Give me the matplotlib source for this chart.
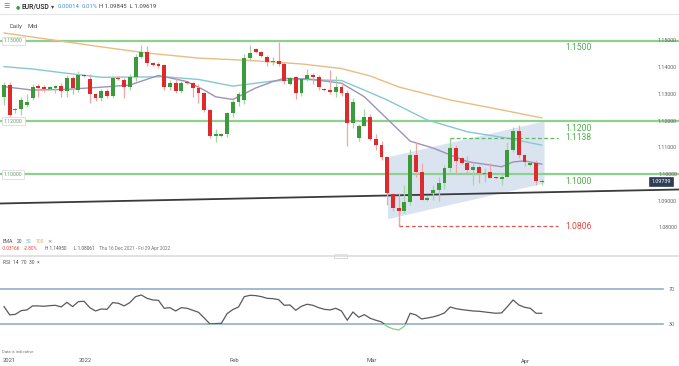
import matplotlib
matplotlib.use("Agg")
import matplotlib.pyplot as plt
import matplotlib.transforms as mtransforms
from matplotlib.patches import FancyBboxPatch
import numpy as np

plt.rcParams['font.family'] = ['Roboto', 'DejaVu Sans']

# ---------------- data (daily candles incl. Sunday sessions, 16 Dec 2021 - 5 Apr 2022) ----------------
opens = [1.1290, 1.1335, 1.1240, 1.1244, 1.1262, 1.1288, 1.1330, 1.1327, 1.1322, 1.1325,
         1.1331, 1.1313, 1.1360, 1.1318, 1.1374, 1.1356, 1.1301, 1.1285, 1.1313, 1.1294,
         1.1363, 1.1354, 1.1329, 1.1366, 1.1441, 1.1458, 1.1418, 1.1413, 1.1410, 1.1329,
         1.1344, 1.1313, 1.1345, 1.1342, 1.1325, 1.1304, 1.1242, 1.1145, 1.1146, 1.1150,
         1.1229, 1.1273, 1.1278, 1.1437, 1.1469, 1.1458, 1.1441, 1.1420, 1.1426, 1.1414,
         1.1340, 1.1365, 1.1306, 1.1358, 1.1373, 1.1366, 1.1320, 1.1316, 1.1310, 1.1329,
         1.1306, 1.1192, 1.1136, 1.1182, 1.1214, 1.1132, 1.1112, 1.1064, 1.0926, 1.0873,
         1.0865, 1.0897, 1.1073, 1.1010, 1.0905, 1.0932, 1.0942, 1.0967, 1.1023, 1.1100,
         1.1061, 1.1042, 1.1017, 1.1029, 1.1001, 1.1008, 1.0990, 1.0983, 1.0992, 1.1092,
         1.1163, 1.1073, 1.1036, 1.1042, 1.0972]
highs = [1.1345, 1.1348, 1.1248, 1.1292, 1.1300, 1.1340, 1.1338, 1.1336, 1.1330, 1.1336,
         1.1342, 1.1372, 1.1368, 1.1387, 1.1378, 1.1376, 1.1307, 1.1320, 1.1322, 1.1370,
         1.1368, 1.1360, 1.1375, 1.1450, 1.1485, 1.1482, 1.1420, 1.1420, 1.1414, 1.1354,
         1.1366, 1.1350, 1.1348, 1.1348, 1.1338, 1.1310, 1.1245, 1.1169, 1.1155, 1.1235,
         1.1280, 1.1308, 1.1450, 1.1485, 1.1472, 1.1462, 1.1448, 1.1440, 1.1495, 1.1420,
         1.1366, 1.1370, 1.1362, 1.1395, 1.1380, 1.1372, 1.1324, 1.1391, 1.1369, 1.1345,
         1.1315, 1.1285, 1.1190, 1.1245, 1.1225, 1.1150, 1.1125, 1.1070, 1.0930, 1.0930,
         1.0961, 1.1095, 1.1120, 1.1042, 1.0918, 1.0961, 1.0992, 1.1035, 1.1138, 1.1112,
         1.1066, 1.1070, 1.1045, 1.1036, 1.1025, 1.1042, 1.0992, 1.1000, 1.1123, 1.1179,
         1.1185, 1.1077, 1.1050, 1.1054, 1.09845]
lows = [1.1262, 1.1220, 1.1232, 1.1222, 1.1254, 1.1280, 1.1292, 1.1310, 1.1318, 1.1306,
        1.1292, 1.1292, 1.1300, 1.1310, 1.1365, 1.1267, 1.1275, 1.1276, 1.1285, 1.1285,
        1.1355, 1.1285, 1.1315, 1.1350, 1.1435, 1.1405, 1.1408, 1.1398, 1.1316, 1.1316,
        1.1304, 1.1305, 1.1338, 1.1291, 1.1267, 1.1235, 1.1138, 1.1123, 1.1140, 1.1140,
        1.1215, 1.1255, 1.1265, 1.1425, 1.1455, 1.1440, 1.1405, 1.1410, 1.1405, 1.1340,
        1.1336, 1.1282, 1.1295, 1.1350, 1.1340, 1.1318, 1.1312, 1.1300, 1.1291, 1.1295,
        1.1107, 1.1175, 1.1125, 1.1180, 1.1130, 1.1092, 1.1054, 1.0886, 1.0865, 1.0806,
        1.0855, 1.0885, 1.0990, 1.0903, 1.0900, 1.0905, 1.0900, 1.0945, 1.1010, 1.1004,
        1.1040, 1.1000, 1.0961, 1.0967, 1.0973, 1.0985, 1.0983, 1.0961, 1.0990, 1.1085,
        1.1060, 1.1030, 1.1030, 1.0961, 1.09619]
closes = [1.1335, 1.1222, 1.1244, 1.1279, 1.1273, 1.1328, 1.1325, 1.1322, 1.1326, 1.1331,
          1.1313, 1.1363, 1.1323, 1.1373, 1.1369, 1.1301, 1.1285, 1.1313, 1.1294, 1.1362,
          1.1357, 1.1329, 1.1366, 1.1441, 1.1458, 1.1416, 1.1410, 1.1407, 1.1329, 1.1344,
          1.1313, 1.1344, 1.1341, 1.1325, 1.1304, 1.1242, 1.1144, 1.1150, 1.1152, 1.1229,
          1.1273, 1.1300, 1.1437, 1.1454, 1.1458, 1.1445, 1.1422, 1.1426, 1.1414, 1.1351,
          1.1363, 1.1306, 1.1358, 1.1373, 1.1366, 1.1327, 1.1316, 1.1309, 1.1329, 1.1306,
          1.1192, 1.1273, 1.1182, 1.1214, 1.1132, 1.1110, 1.1064, 1.0930, 1.0873, 1.0865,
          1.0898, 1.1073, 1.1010, 1.0905, 1.0912, 1.0942, 1.0967, 1.1023, 1.1100, 1.1051,
          1.1042, 1.1017, 1.1029, 1.1004, 1.1004, 1.0986, 1.0985, 1.0992, 1.1092, 1.1163,
          1.1073, 1.1048, 1.1044, 1.0974, 1.09739]

ema20_idx = [0, 5, 11, 17, 22, 27, 32, 35, 37, 40, 44, 47, 49, 53, 59, 63, 67, 71, 75, 81, 87, 89, 91, 94]
ema20_val = [1.1329, 1.1316, 1.1319, 1.1327, 1.1335, 1.1371, 1.1348, 1.1316, 1.1291, 1.1281, 1.1324, 1.1348,
             1.1360, 1.1358, 1.1342, 1.1291, 1.1208, 1.1125, 1.1099, 1.1048, 1.1029, 1.1047, 1.1051, 1.1039]
ema50_idx = [0, 5, 11, 17, 23, 28, 34, 40, 47, 52, 59, 63, 67, 74, 81, 88, 94]
ema50_val = [1.1404, 1.1395, 1.1379, 1.1364, 1.1365, 1.1366, 1.1356, 1.1331, 1.1350, 1.1356, 1.1352,
             1.1316, 1.1279, 1.1204, 1.1160, 1.1136, 1.1110]
ema100_idx = [0, 17, 25, 34, 43, 52, 59, 64, 69, 78, 87, 94]
ema100_val = [1.1530, 1.1478, 1.1455, 1.1436, 1.1427, 1.1414, 1.1397, 1.1369, 1.1328, 1.1279, 1.1242, 1.1212]

rsi = [50.2, 40.7, 41.4, 45.6, 46.4, 51.0, 51.0, 50.6, 51.3, 51.7,
       49.8, 55.1, 50.2, 55.9, 56.3, 49.0, 45.2, 47.5, 47.1, 54.8,
       54.0, 51.0, 54.8, 61.6, 63.5, 59.7, 57.8, 57.4, 48.3, 49.0,
       45.2, 49.0, 48.3, 46.0, 43.7, 37.2, 30.4, 30.8, 31.1, 42.2,
       46.8, 49.8, 61.6, 63.1, 62.8, 61.6, 59.7, 59.3, 58.2, 51.7,
       52.1, 46.0, 50.6, 52.9, 51.7, 49.0, 47.1, 46.4, 48.3, 45.2,
       34.6, 44.1, 38.0, 41.0, 36.9, 34.6, 32.7, 27.3, 24.7, 23.5,
       27.7, 42.6, 40.7, 36.1, 37.2, 38.4, 40.3, 43.0, 49.8, 47.9,
       46.8, 46.0, 45.2, 44.9, 44.1, 43.3, 42.6, 43.0, 50.2, 57.8,
       52.1, 49.4, 48.3, 42.6, 42.6]

levels = [1.1500, 1.1200, 1.1000]
level_labels = ["1.1500", "1.1200", "1.1000"]
box_labels = ["1.15000", "1.12000", "1.10000"]
resist_level, resist_idx = 1.1138, 78
support_level, support_idx = 1.0806, 69
trend_idx = [-0.7, 118.0]
trend_price = [1.08914, 1.09438]
channel_idx = [67.05, 94.4]
channel_top = [1.10667, 1.12011]
channel_bottom = [1.08345, 1.09682]
axis_prices = [1.15, 1.14, 1.13, 1.12, 1.11, 1.10, 1.09, 1.08]
last_price = 1.09739
xlabels = ["2021", "2022", "Feb", "Mar", "Apr"]
xlabel_idx = [-0.2, 13.0, 39.5, 63.3, 90.4]

# ---------------- figure ----------------
W, H = 679, 366
fig = plt.figure(figsize=(W / 100, H / 100), dpi=100)
fig.patch.set_facecolor("white")

def fx(x):
    return x / W

def fy(y):
    return 1 - y / H

XMIN, XMAX = -0.7, 118.0
ax = fig.add_axes([0, fy(246), 1, (246 - 18) / H])
ax.set_xlim(XMIN, XMAX)
ax.set_ylim(1.07322, 1.15861)
ax.axis("off")

axr = fig.add_axes([0, fy(338), 1, (338 - 258) / H])
axr.set_xlim(XMIN, XMAX)
axr.set_ylim(14.3, 105.8)
axr.axis("off")

n = len(opens)
x = np.arange(n)
o = np.array(opens); h = np.array(highs); l = np.array(lows); c = np.array(closes)
up = c >= o

GREEN_BODY = "#3b9b3b"
RED_BODY = "#de2a2a"
GREEN_WICK = "#a3d5a3"
RED_WICK = "#f2a5a5"

# channel
ax.fill_between(channel_idx, channel_bottom, channel_top, color="#d4e0ef", alpha=0.85, lw=0, zorder=1)

# horizontal levels
for lv in levels:
    ax.axhline(lv, color="#8fd08f", lw=1.6, zorder=2)

# trend line
ax.plot(trend_idx, trend_price, color="#3a3a3a", lw=1.3, zorder=3)

# EMAs
ax.plot(ema100_idx, ema100_val, color="#e9bd82", lw=1.0, zorder=3)
ax.plot(ema50_idx, ema50_val, color="#86c8d2", lw=1.0, zorder=3)
ax.plot(ema20_idx, ema20_val, color="#9e92b8", lw=1.0, zorder=3)

# dashed levels
ax.plot([resist_idx, resist_idx], [closes[resist_idx], resist_level], color="#5cb85c", lw=0.9, ls=(0, (3, 2)), zorder=4)
ax.plot([resist_idx, 96.9], [resist_level, resist_level], color="#5cb85c", lw=0.9, ls=(0, (3, 2)), zorder=4)
ax.plot([support_idx, support_idx], [closes[support_idx], support_level], color="#e05555", lw=0.9, ls=(0, (3, 2)), zorder=4)
ax.plot([support_idx, 96.9], [support_level, support_level], color="#e05555", lw=0.9, ls=(0, (3, 2)), zorder=4)

# candles
wick_cols = [GREEN_WICK if u else RED_WICK for u in up]
body_cols = [GREEN_BODY if u else RED_BODY for u in up]
ax.vlines(x, l, h, colors=wick_cols, lw=0.9, zorder=5)
body_h = np.maximum(np.abs(c - o), 0.00018)
ax.bar(x, body_h, bottom=np.minimum(o, c), width=0.68, color=body_cols, lw=0, zorder=6)

# level labels (right)
for lv, lab in zip(levels, level_labels):
    ax.annotate(lab, xy=(98.1, lv), xytext=(0, -1.8), textcoords="offset points",
                va="top", ha="left", fontsize=6.2, color="#4cae4c", zorder=7)
ax.annotate("1.1138", xy=(98.1, resist_level), va="center", ha="left", fontsize=6.2, color="#4cae4c", zorder=7)
ax.annotate("1.0806", xy=(98.1, support_level), va="center", ha="left", fontsize=6.2, color="#e04545", zorder=7)

# level boxes (left)
btr = mtransforms.blended_transform_factory(fig.transFigure, ax.transData)
for lv, lab in zip(levels, box_labels):
    ax.text(fx(4), lv, lab, transform=btr, fontsize=3.8, color="#6aa36a", va="center", ha="left", zorder=8,
            bbox=dict(boxstyle="square,pad=0.35", fc="white", ec="#d5d5d5", lw=0.5))

# price axis labels (right)
for p in axis_prices:
    ax.text(fx(677), p, f"{p:.5f}", transform=btr, fontsize=3.9, color="#666666", va="center", ha="right", zorder=8)
ax.text(fx(661), last_price, f"{last_price:.5f}", transform=btr, fontsize=3.9, color="white", va="center", ha="center",
        zorder=9, bbox=dict(boxstyle="square,pad=0.35", fc="#2f3d57", ec="#2f3d57", lw=0.5))

# RSI
for lv in (70, 30):
    axr.plot([XMIN, 115.2], [lv, lv], color="#93aecb", lw=1.2, zorder=2)
rtr = mtransforms.blended_transform_factory(fig.transFigure, axr.transData)
axr.text(fx(675), 70, "70", transform=rtr, fontsize=4, color="#666666", va="center", ha="right")
axr.text(fx(675), 30, "30", transform=rtr, fontsize=4, color="#666666", va="center", ha="right")
ln1, = axr.plot(x, rsi, color="#5a5a5a", lw=0.9, zorder=3)
ln1.set_clip_box(mtransforms.TransformedBbox(mtransforms.Bbox([[XMIN, 30], [XMAX, 105.8]]), axr.transData))
ln2, = axr.plot(x, rsi, color="#7fd07f", lw=0.9, zorder=3)
ln2.set_clip_box(mtransforms.TransformedBbox(mtransforms.Bbox([[XMIN, 14.3], [XMAX, 30]]), axr.transData))

# ---------------- header / decorations ----------------
fig.add_artist(plt.Line2D([0, 1], [fy(14), fy(14)], color="#e6e6e6", lw=0.8))
fig.add_artist(plt.Line2D([0, 1], [fy(256), fy(256)], color="#dddddd", lw=1.2))
fig.add_artist(FancyBboxPatch((fx(335), fy(258)), fx(12), (2.8 / H), boxstyle="round,pad=0.001",
                              fc="white", ec="#c8c8c8", lw=0.5))

fig.text(fx(3), fy(6.5), "☰", fontsize=5, color="#777777", va="center", ha="left", family="DejaVu Sans")
fig.text(fx(15.5), fy(6.5), "●", fontsize=3.5, color="#3aa63a", va="center", ha="left", family="DejaVu Sans")
fig.text(fx(21.5), fy(6.5), "EUR/USD", fontsize=4.9, color="#222222", va="center", ha="left", weight="medium")
fig.text(fx(51), fy(6.5), "▾", fontsize=4.5, color="#444444", va="center", ha="left", family="DejaVu Sans")
fig.text(fx(58), fy(6.5), "0.00014", fontsize=4.3, color="#4a8fd6", va="center", ha="left")
fig.text(fx(82), fy(6.5), "0.01%", fontsize=4.3, color="#4a8fd6", va="center", ha="left")
fig.text(fx(99), fy(6.5), "H 1.09845  L 1.09619", fontsize=4.3, color="#444444", va="center", ha="left")
fig.text(fx(10), fy(26.5), "Daily", fontsize=4.3, color="#555555", va="center", ha="left")
fig.text(fx(28), fy(26.5), "Mid", fontsize=4.3, color="#555555", va="center", ha="left")

fig.text(fx(3), fy(241.7), "EMA", fontsize=3.6, color="#555555", va="center", ha="left")
fig.text(fx(17), fy(241.7), "20", fontsize=3.6, color="#555555", va="center", ha="left")
fig.text(fx(26), fy(241.7), "50", fontsize=3.6, color="#5fb8c8", va="center", ha="left")
fig.text(fx(36), fy(241.7), "100", fontsize=3.6, color="#e0a860", va="center", ha="left")
fig.text(fx(47), fy(241.7), "×", fontsize=3.8, color="#777777", va="center", ha="left", family="DejaVu Sans")
fig.text(fx(2), fy(248.5), "-0.03166", fontsize=3.4, color="#e04545", va="center", ha="left")
fig.text(fx(24), fy(248.5), "-2.80%", fontsize=3.4, color="#e04545", va="center", ha="left")
fig.text(fx(45), fy(248.5), "H 1.14950", fontsize=3.4, color="#555555", va="center", ha="left")
fig.text(fx(73.5), fy(248.5), "L 1.08061", fontsize=3.4, color="#555555", va="center", ha="left")
fig.text(fx(99), fy(248.5), "Thu 16 Dec 2021 - Fri 29 Apr 2022", fontsize=3.4, color="#777777", va="center", ha="left")
fig.text(fx(3), fy(262.7), "RSI  14  70  30  ×", fontsize=3.6, color="#555555", va="center", ha="left",
         family=["Roboto", "DejaVu Sans"])

fig.text(fx(2), fy(352), "Data is indicative", fontsize=3.0, color="#777777", va="center", ha="left")
xtr = mtransforms.blended_transform_factory(axr.transData, fig.transFigure)
for lab, xi in zip(xlabels, xlabel_idx):
    axr.text(xi, fy(361), lab, transform=xtr, fontsize=4.2, color="#555555", va="center", ha="left")

fig.savefig("out.png", dpi=100, facecolor="white")
